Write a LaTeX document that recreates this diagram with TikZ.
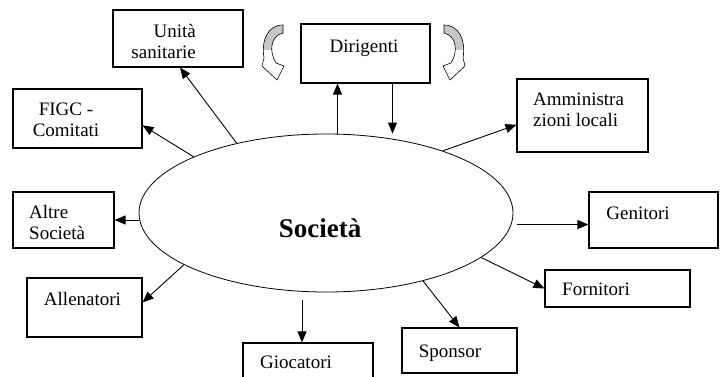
\documentclass[tikz,border=0pt]{standalone}
\usepackage{fontspec}
\setmainfont{Liberation Serif}
\usetikzlibrary{shapes.geometric,arrows.meta,calc}
\tikzset{>={Triangle[length=11pt,width=9pt]}}
\tikzset{
  box/.style={draw, line width=1.1pt, inner sep=0pt},
  lbl/.style={inner sep=0pt, font=\fontsize{19}{21}\selectfont},
  link/.style={->, line width=0.9pt}
}
\newcommand{\bendshape}{(283,25) .. controls (268,25) and (261,40) .. (264,58) -- (262,66) -- (277,80) -- (284,66) -- (276,63) .. controls (269,52) and (270,36) .. (283,33) -- cycle}
\newcommand{\turnarrow}{%
  \fill[white] \bendshape;
  \begin{scope}
    \clip (250,0) rectangle (300,50);
    \fill[gray!45] \bendshape;
  \end{scope}
  \draw[line width=0.6pt] \bendshape;
}

\begin{document}
\begin{tikzpicture}[x=1pt,y=-1pt]
  \useasboundingbox (0,0) rectangle (720,377);
  % centre
  \node[draw, ellipse, line width=0.8pt, minimum width=374pt, minimum height=158pt, inner sep=0pt] (soc) at (326,213) {};
  \node[inner sep=0pt, font=\fontsize{27}{30}\selectfont\bfseries] (soctxt) at (320,228) {Società};
  % boxes
  \node[box, minimum width=130pt, minimum height=57pt] (unita) at (178,38.5) {};
  \node[box, minimum width=129pt, minimum height=59pt] (diri) at (365.5,53.5) {};
  \node[box, minimum width=129pt, minimum height=59pt] (figc) at (77.5,118.5) {};
  \node[box, minimum width=101pt, minimum height=56pt] (altre) at (63.5,220) {};
  \node[box, minimum width=115pt, minimum height=59pt] (allen) at (84.5,307.5) {};
  \node[box, minimum width=130pt, minimum height=57pt] (gioc) at (308,371.5) {};
  \node[box, minimum width=115pt, minimum height=45pt] (sponsor) at (459.5,350.5) {};
  \node[box, minimum width=145pt, minimum height=37pt] (forn) at (617.5,288.5) {};
  \node[box, minimum width=129pt, minimum height=56pt] (geni) at (653.5,220) {};
  \node[box, minimum width=131pt, minimum height=73pt] (ammin) at (582.5,115.5) {};
  % labels
  \node[lbl, align=right, anchor=east] (unitatxt) at (196,41) {Unità\\sanitarie};
  \node[lbl, anchor=base] (diritxt) at (364,53) {Dirigenti};
  \node[lbl, align=center] (figctxt) at (66,120) {FIGC -\\Comitati};
  \node[lbl, align=left, anchor=west] (altretxt) at (29,222.5) {Altre\\Società};
  \node[lbl, anchor=base] (allentxt) at (82.5,305) {Allenatori};
  \node[lbl, anchor=base] (gioctxt) at (296,368) {Giocatori};
  \node[lbl, anchor=base] (sponsortxt) at (450,357) {Sponsor};
  \node[lbl, anchor=base] (forntxt) at (596,295) {Fornitori};
  \node[lbl, anchor=base] (genitxt) at (638,219) {Genitori};
  \node[lbl, align=left, anchor=west] (ammintxt) at (533,110) {Amministra\\zioni locali};
  % links
  \draw[link] (soc.142) -- ([xshift=2pt]unita.south);
  \draw[link] (soc.157) -- (figc.-6);
  \draw[link] (soc.west |- altre.east) -- (altre.east);
  \draw[link] (soc.200) -- (allen.5);
  \draw[link] ($(soc.south -| gioc.north)+(-6,8)$) -- ([xshift=-6pt]gioc.north);
  \draw[link] (soc.325) -- (sponsor.north);
  \draw[link] (soc.344) -- (forn.west);
  \draw[link] ($(soc.east |- geni.184)+(4,0)$) -- (geni.184);
  \draw[link] (soc.28) -- (ammin.188);
  \draw[link] ([xshift=-28pt]diri.south |- soc.north) -- ([xshift=-28pt]diri.south);
  \draw[link] ([xshift=27pt]diri.south) -- ([xshift=27pt]diri.south |- soc.north);
  % turning arrows
  \turnarrow
  \begin{scope}[xshift=727pt, xscale=-1]
    \turnarrow
  \end{scope}
\end{tikzpicture}
\end{document}
